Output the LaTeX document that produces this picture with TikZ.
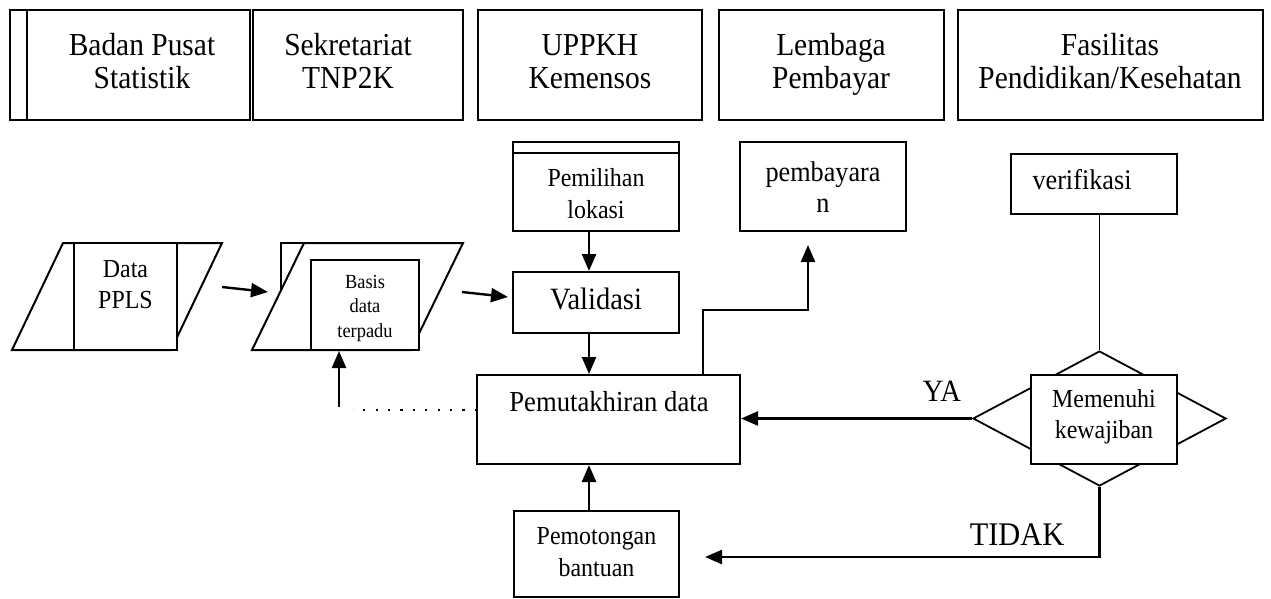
\documentclass[tikz,border=0pt]{standalone}
\usepackage{fontspec}
\setmainfont[FakeStretch=0.92]{Liberation Serif}
\usetikzlibrary{arrows.meta,shapes.geometric,calc}
\newcommand\fsz[2]{\fontsize{#1}{#2}\selectfont}
\begin{document}
\begin{tikzpicture}[x=1pt,y=-1pt,
  box/.style={draw, line width=2pt, fill=white, inner sep=0pt, rectangle},
  lbl/.style={inner sep=0pt, align=center},
  arr/.style={-{Triangle[length=17pt,width=14pt]}, line width=2.4pt},
  ln/.style={line width=2pt},
  top/.style={box, minimum height=110pt}]
\useasboundingbox (0,0) rectangle (1271,598);
% top lanes
\draw[ln] (10,10) rectangle (27,120);
\node[top, minimum width=223pt] (b1) at (138.5,65) {};
\node[top, minimum width=210pt] (b2) at (358,65) {};
\node[top, minimum width=224pt] (b3) at (590,65) {};
\node[top, minimum width=225pt] (b4) at (831.5,65) {};
\node[top, minimum width=305pt] (b5) at (1110.5,65) {};
\node[lbl, font=\fsz{32}{33}] (t1) at (142,64.9) {\strut Badan Pusat\\\strut Statistik};
\node[lbl, font=\fsz{32}{33}] (t2) at (348,64.9) {\strut Sekretariat\\\strut TNP2K};
\node[lbl, font=\fsz{32}{33}] (t3) at (590,64.9) {\strut UPPKH\\\strut Kemensos};
\node[lbl, font=\fsz{32}{33}] (t4) at (831,64.9) {\strut Lembaga\\\strut Pembayar};
\node[lbl, font=\fsz{32}{33}] (t5) at (1110,64.9) {\strut Fasilitas\\\strut Pendidikan/Kesehatan};
% Data PPLS
\draw[ln, fill=white] (12,350) -- (63,243) -- (222,243) -- (171,350) -- cycle;
\node[box, minimum width=103pt, minimum height=107pt] (ppls) at (125.5,296.5) {};
\node[lbl, font=\fsz{26}{31}] at (125.5,286.3) {\strut Data\\\strut PPLS};
% Basis data terpadu
\draw[ln, fill=white] (281,350) -- (281,243) -- (400,243) -- (400,350) -- cycle;
\draw[ln, fill=white] (252,350) -- (304,243) -- (463,243) -- (411,350) -- cycle;
\node[box, minimum width=108pt, minimum height=90pt] (bas) at (365,305) {};
\node[lbl, font=\fsz{20}{24.5}] at (365,307.6) {\strut Basis\\\strut data\\\strut terpadu};
% Pemilihan lokasi
\node[box, minimum width=166pt, minimum height=89pt] (pem) at (596,186.5) {};
\draw[ln] ($(pem.north west)+(0,12)$) -- ($(pem.north east)+(0,12)$);
\node[lbl, font=\fsz{26}{32}] at (596,195.6) {\strut Pemilihan\\\strut lokasi};
% Validasi
\node[box, minimum width=166pt, minimum height=61pt] (val) at (596,302.5) {};
\node[lbl, font=\fsz{31}{34}] at (596,303) {\strut Validasi};
% pembayaran
\node[box, minimum width=166pt, minimum height=89pt] (pmb) at (823,186.5) {};
\node[lbl, font=\fsz{28.5}{31}] at (823,190.8) {\strut pembayara\\\strut n};
% verifikasi
\node[box, minimum width=166pt, minimum height=60pt] (ver) at (1094,184) {};
\node[lbl, font=\fsz{28.5}{32}] at (1082,182.6) {\strut verifikasi};
% Pemutakhiran data
\node[box, minimum width=263pt, minimum height=89pt] (upd) at (608.5,419.5) {};
\node[lbl, font=\fsz{29}{32}] at (609,404.6) {\strut Pemutakhiran data};
% Pemotongan bantuan
\node[box, minimum width=165pt, minimum height=86pt] (cut) at (596.5,554) {};
\node[lbl, font=\fsz{26}{32}] at (596.5,553.6) {\strut Pemotongan\\\strut bantuan};
% decision
\node[draw, line width=1.8pt, diamond, fill=white, inner sep=0pt, minimum width=253pt, minimum height=135pt] (dia) at (1099.5,418.5) {};
\node[box, minimum width=146pt, minimum height=89pt] (mem) at (1104,419.5) {};
\node[lbl, font=\fsz{26}{31}] at (1104,416.3) {\strut Memenuhi\\\strut kewajiban};
% connectors
\coordinate (a1s) at (222,287);
\coordinate (a1e) at (268,292);
\coordinate (a2s) at (462,292);
\coordinate (a2e) at (508,297);
\draw[arr] (a1s) -- (a1e);
\draw[arr] (a2s) -- (a2e);
\coordinate (xa) at (589,0);
\draw[arr] (pem.south -| xa) -- (val.north -| xa);
\draw[arr] (val.south -| xa) -- (upd.north -| xa);
\draw[arr] (cut.north -| xa) -- (upd.south -| xa);
\coordinate (xb) at (703,310);
\coordinate (pt) at (808,245);
\draw[arr] (upd.north -| xb) -- (xb) -- (pt |- xb) -- (pt);
\coordinate (ds) at (477,410);
\coordinate (de) at (353,410);
\draw[line width=2.2pt, dash pattern=on 2.2pt off 10.2pt] (ds) -- (de);
\coordinate (us) at (339,407);
\draw[arr] (us) -- (bas.south -| us);
\draw[arr] (dia.west) -- (dia.west -| upd.east);
\draw[line width=1.8pt] (dia.north |- ver.south) -- (dia.north);
\coordinate (tt) at (705,557);
\draw[arr] (dia.south) -- (dia.south |- tt) -- (tt);
\node[lbl, font=\fsz{31}{34}] (ya) at (942,395) {\strut YA};
\node[lbl, font=\fsz{33}{36}] (td) at (1017,538) {\strut TIDAK};
\end{tikzpicture}
\end{document}
